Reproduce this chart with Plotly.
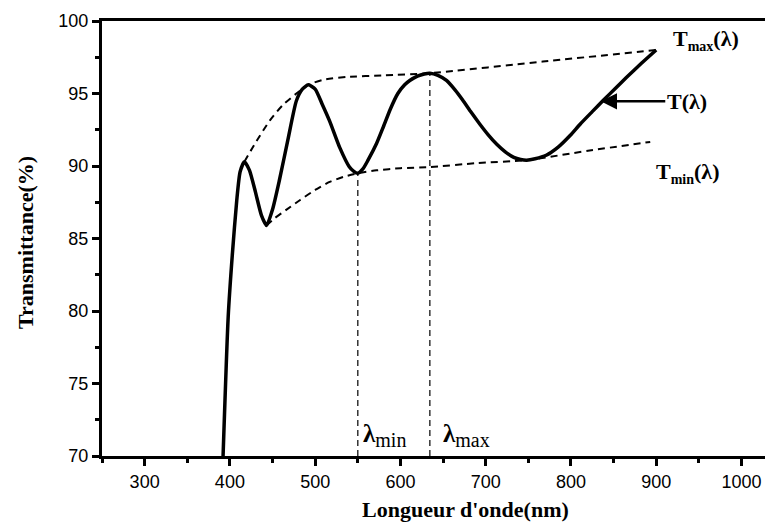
import plotly.graph_objects as go

# Transmittance spectrum T(lambda)
wl = [392, 398, 403, 408, 412, 417, 423, 430, 437, 443, 450, 458, 468, 478, 485, 492,
      500, 508, 517, 529, 540, 545, 550, 556, 562, 572, 580, 588, 597, 605, 611, 620, 628, 634.5,
      644, 654, 664, 673, 683, 693, 703, 713, 723, 733, 741, 748, 758, 771, 785, 799, 811,
      825, 838, 852, 865, 883, 900]
T = [70, 79.6, 84.0, 87.6, 89.6, 90.3, 89.7, 88.2, 86.6, 85.9, 87.0, 89.0, 91.8, 94.5, 95.3, 95.6,
     95.3, 94.3, 93.1, 91.25, 89.95, 89.65, 89.5, 89.8, 90.4, 91.55, 92.7, 93.9, 95.0, 95.6, 95.9, 96.2, 96.35, 96.4,
     96.25, 95.9, 95.25, 94.55, 93.7, 92.9, 92.15, 91.5, 90.98, 90.6, 90.45, 90.4, 90.5, 90.74, 91.3, 92.1, 92.9,
     93.75, 94.53, 95.35, 96.1, 97.1, 98.0]

# Upper envelope Tmax(lambda)
wl_max = [417, 430, 447, 462, 478, 492, 510, 537, 580, 634.5, 767, 900]
T_max = [90.3, 91.6, 93.15, 94.2, 95.0, 95.6, 95.95, 96.14, 96.25, 96.4, 97.2, 98.0]

# Lower envelope Tmin(lambda)
wl_min = [443, 452.6, 466, 482, 500, 517, 533, 550, 572, 600, 634.5, 690, 748, 820, 893]
T_min = [85.9, 86.4, 86.97, 87.64, 88.35, 88.9, 89.25, 89.5, 89.7, 89.85, 89.93, 90.2, 90.4, 91.05, 91.66]

# marked extrema
lam_min, T_lam_min = 550, 89.5
lam_max, T_lam_max = 634.5, 96.4

y_floor = 70
x_ticks = [300, 400, 500, 600, 700, 800, 900, 1000]
y_ticks = [70, 75, 80, 85, 90, 95, 100]

serif = "Liberation Serif, Times New Roman, serif"
sans = "Liberation Sans, Arial, sans-serif"

fig = go.Figure()
env_line = dict(color="black", width=2, dash="7px,5px", shape="spline", smoothing=0.6)
fig.add_trace(go.Scatter(x=wl_max, y=T_max, mode="lines", line=env_line, hoverinfo="skip"))
fig.add_trace(go.Scatter(x=wl_min, y=T_min, mode="lines", line=env_line, hoverinfo="skip"))
fig.add_trace(go.Scatter(x=[lam_min, lam_min], y=[y_floor, T_lam_min], mode="lines",
                         line=dict(color="#333333", width=1.5, dash="6px,4px"), hoverinfo="skip"))
fig.add_trace(go.Scatter(x=[lam_max, lam_max], y=[y_floor, T_lam_max], mode="lines",
                         line=dict(color="#333333", width=1.5, dash="6px,4px"), hoverinfo="skip"))
fig.add_trace(go.Scatter(x=wl, y=T, mode="lines",
                         line=dict(color="black", width=3.5, shape="spline", smoothing=0.6),
                         hoverinfo="skip"))

lam_sub = "<b>λ</b><sub><span style='font-size:20px'>{}</span></sub>"
annotations = [
    dict(x=lam_min + 4, y=71.4, xref="x", yref="y", xanchor="left", yanchor="middle", showarrow=False,
         text=lam_sub.format("min"), font=dict(family=serif, size=25, color="black")),
    dict(x=lam_max + 13, y=71.4, xref="x", yref="y", xanchor="left", yanchor="middle", showarrow=False,
         text=lam_sub.format("max"), font=dict(family=serif, size=25, color="black")),
    dict(x=958, y=98.7, xref="x", yref="y", xanchor="center", yanchor="middle", showarrow=False,
         text="<b>T<sub><span style='font-size:14px'>max</span></sub>(λ)</b>",
         font=dict(family=serif, size=22, color="black")),
    dict(x=937, y=89.55, xref="x", yref="y", xanchor="center", yanchor="middle", showarrow=False,
         text="<b>T<sub><span style='font-size:14px'>min</span></sub>(λ)</b>",
         font=dict(family=serif, size=22, color="black")),
    dict(x=835, y=94.46, xref="x", yref="y", ax=86, ay=0, showarrow=True,
         arrowhead=2, arrowsize=1.3, arrowwidth=2.5, arrowcolor="black",
         text="<b>T(λ)</b>", font=dict(family=serif, size=22, color="black")),
    dict(x=0.541, y=-0.124, xref="paper", yref="paper", xanchor="center", yanchor="middle", showarrow=False,
         text="<b>Longueur d'onde(nm)</b>", font=dict(family=serif, size=22, color="black")),
    dict(x=-0.113, y=0.49, xref="paper", yref="paper", xanchor="center", yanchor="middle", showarrow=False,
         textangle=-90, text="<b>Transmittance(%)</b>", font=dict(family=serif, size=22, color="black")),
]

# page body has an 8px default margin, so the figure is sized to finish at the window edge
fig.update_layout(
    width=765, height=514,
    margin=dict(l=94, r=0, t=13, b=66),
    paper_bgcolor="white", plot_bgcolor="white",
    showlegend=False,
    annotations=annotations,
    xaxis=dict(range=[250, 1037], tickvals=x_ticks, ticks="outside", ticklen=7, tickwidth=3,
               tickcolor="black", showline=True, linewidth=3, linecolor="black", mirror=True,
               showgrid=False, zeroline=False,
               minor=dict(dtick=50, tick0=250, ticks="outside", ticklen=4, tickwidth=2.5, tickcolor="black"),
               tickfont=dict(family=sans, size=18, color="black")),
    yaxis=dict(range=[70, 100], tickvals=y_ticks, ticks="outside", ticklen=7, tickwidth=3,
               tickcolor="black", showline=True, linewidth=3, linecolor="black", mirror=False,
               showgrid=False, zeroline=False,
               minor=dict(dtick=2.5, tick0=70, ticks="outside", ticklen=4, tickwidth=2.5, tickcolor="black"),
               tickfont=dict(family=sans, size=18, color="black")),
)

fig.write_html("out.html")
